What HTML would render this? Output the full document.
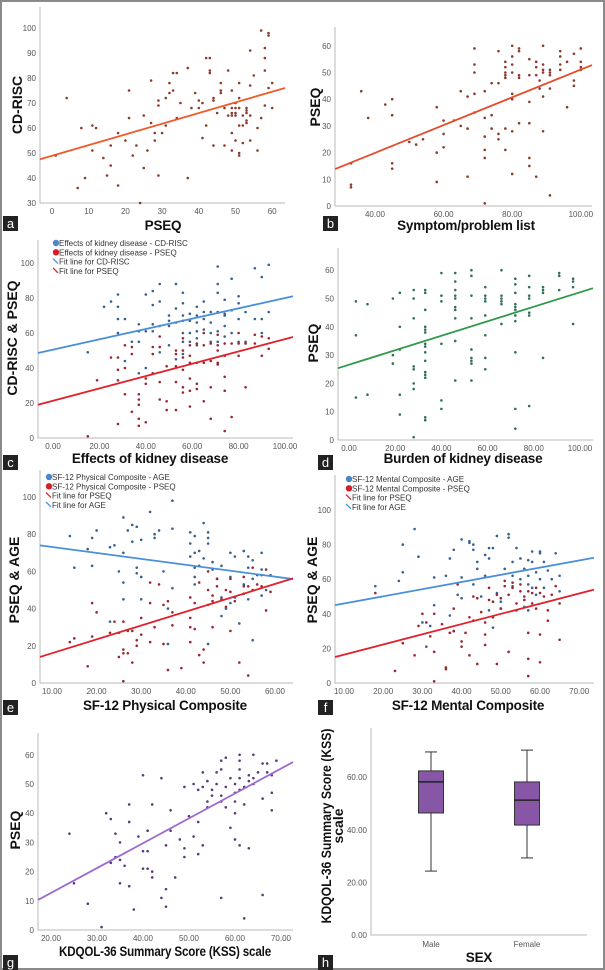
<!DOCTYPE html>
<html><head><meta charset="utf-8">
<style>
html,body{margin:0;padding:0;background:#fff;}
svg{display:block;font-family:"Liberation Sans",sans-serif;}
.tk{font-size:8px;fill:#555;}
.tt{font-size:13.5px;font-weight:bold;fill:#111;letter-spacing:-0.2px;}
.yl{font-size:14px;font-weight:bold;fill:#111;}
.lg{font-size:8px;fill:#333;}
.lt{font-size:13px;fill:#fff;}
</style></head>
<body>
<svg id="fig" width="605" height="970" viewBox="0 0 605 970">
<rect x="1" y="1" width="603" height="968" fill="#fff" stroke="#8a8a8a" stroke-width="2"/>
<g id="layer"></g>
</svg>
<script>
// ---- data ----
const aX=[1,4,7,8,9,11,11,12,14,15,16,16,18,18,20,21,21,22,23,24,25,25,26,27,27,28,28,29,29,29,30,31,31,32,32,33,33,34,34,35,37,37,38,39,40,40,41,41,42,42,43,43,43,44,44,44,45,46,46,46,47,47,48,48,49,49,49,49,49,49,50,50,50,50,50,51,51,51,51,51,51,52,52,52,53,53,53,53,53,54,54,54,54,55,56,56,57,57,58,58,58,58,59,59,59,60,60];
const aY=[49,72,36,60,40,61,51,60,48,41,53,45,58,37,55,75,64,49,53,30,65,44,51,79,62,58,55,71,69,41,58,72,61,78,74,75,82,82,64,70,84,40,68,74,71,68,70,56,88,61,88,83,82,72,71,53,66,78,75,74,68,53,83,65,75,68,66,65,58,51,70,68,66,65,55,78,72,68,61,50,49,65,61,54,68,67,66,63,62,91,77,55,65,81,60,51,99,64,92,88,83,69,98,97,76,78,68];
const fitA=[48.9,0.427];
const bX=[33,33,33,36,38,43,45,45,45,45,50,52,54,58,58,58,60,60,60,63,65,65,67,67,67,69,69,69,69,69,72,72,72,72,72,72,74,74,74,76,76,76,76,78,78,78,78,78,78,78,80,80,80,80,80,80,80,80,82,82,82,82,82,85,85,85,85,85,85,87,87,87,87,88,88,89,89,89,89,89,89,91,91,91,91,91,94,94,94,94,96,96,98,98,98,100,100,100,100];
const bY=[16,8,7,43,33,38,40,34,16,14,24,23,25,37,20,9,32,27,22,32,30,43,41,29,11,59,53,50,42,35,43,33,26,21,18,1,46,34,29,46,58,27,25,29,21,54,52,50,49,48,60,56,53,50,42,40,28,12,59,58,49,48,31,55,49,39,31,18,15,54,52,49,11,47,44,60,53,51,50,41,28,51,50,49,44,4,58,56,53,51,54,37,57,47,45,59,54,52,51];
const fitB=[-0.9,0.52];
const cBlueX=[15,22,25,28,28,28,28,31,31,34,37,37,37,37,40,40,40,43,43,43,43,46,46,46,46,50,50,50,50,53,53,53,53,56,56,56,56,56,56,56,59,59,59,59,62,62,62,62,62,62,65,65,65,65,68,68,68,68,71,71,71,71,71,71,74,74,74,74,74,77,77,77,80,80,80,80,83,83,87,87,90,90,90,93,93];
const cBlueY=[49,75,78,82,75,68,60,68,44,55,65,61,55,37,82,61,40,84,76,65,61,88,78,64,49,70,67,64,53,88,74,66,45,83,77,70,67,60,55,48,71,67,60,55,75,70,66,61,57,53,78,72,68,62,72,66,60,55,98,88,83,72,61,55,79,71,70,64,58,91,73,60,81,77,68,55,72,55,97,68,92,68,60,99,72];
const cRedX=[15,19,25,28,28,28,28,31,31,31,34,34,34,37,37,37,37,37,40,40,40,43,43,43,46,46,46,46,49,49,49,53,53,53,53,53,56,56,56,56,56,56,59,59,59,59,59,59,62,62,62,62,65,65,65,65,68,68,68,68,71,71,71,71,71,74,74,74,74,74,77,77,80,80,80,83,83,87,87,90,90,93,93];
const cRedY=[1,33,46,46,39,33,8,53,40,25,52,48,15,25,22,19,11,7,34,31,9,52,48,37,58,52,32,22,41,21,16,50,48,41,32,16,57,50,46,39,29,26,53,47,43,34,27,18,54,43,31,28,60,53,43,21,54,44,29,11,59,53,50,43,42,54,47,35,27,4,54,12,60,54,47,54,29,59,54,58,47,57,51];
const fitCBlue=[50.5,0.295];
const fitCRed=[21.3,0.352];
const dX=[3,3,3,8,8,19,19,19,22,22,22,22,22,28,28,28,28,28,28,28,28,33,33,33,33,33,33,33,33,33,33,33,33,33,33,33,40,40,40,40,40,40,46,46,46,46,46,46,46,46,46,46,53,53,53,53,53,53,53,53,53,59,59,59,59,59,59,59,59,66,66,66,66,66,66,72,72,72,72,72,72,72,72,72,72,72,78,78,78,78,78,78,78,84,84,84,84,91,91,91,97,97,97,97];
const dY=[49,37,15,48,16,50,30,27,52,40,32,16,9,53,50,43,26,25,20,18,1,53,52,46,40,39,38,34,33,31,28,24,23,22,8,7,59,51,49,34,14,11,59,56,53,51,50,47,46,43,35,21,60,58,51,43,32,29,28,27,21,54,51,50,49,44,37,29,25,60,51,50,49,48,41,57,55,52,48,47,46,44,42,31,11,4,58,54,51,50,45,44,12,54,53,52,29,59,58,53,57,56,54,41];
const fitD=[26.6,0.256];
const eBlueX=[14,15,18,19,19,20,23,23,24,25,26,26,26,26,27,28,28,29,29,29,30,30,30,32,33,33,34,35,36,36,37,37,37,41,41,41,42,42,42,42,42,43,43,44,44,45,45,45,45,45,46,46,47,48,48,48,49,50,50,50,51,51,52,53,53,54,54,54,55,55,55,56,57,57,57,58,59];
const eBlueY=[79,62,72,63,78,82,33,73,74,60,89,70,54,45,82,85,76,84,62,59,77,57,45,92,78,80,82,60,21,40,98,83,51,81,75,68,79,70,62,57,53,71,63,86,67,81,78,75,42,21,65,61,56,63,46,36,40,70,57,43,68,46,32,71,53,68,62,45,66,23,56,58,70,61,47,50,58];
const eRedX=[14,15,18,19,19,20,23,24,25,25,26,26,26,26,27,27,28,28,29,29,30,30,32,32,32,33,34,35,35,36,36,37,37,39,41,41,41,41,42,42,43,43,44,44,45,45,46,46,46,47,47,48,49,49,50,50,50,51,52,53,53,53,54,54,55,55,56,57,57,58,58,59];
const eRedY=[22,24,9,25,43,38,27,33,14,27,18,16,1,33,16,28,11,28,23,20,26,35,22,54,43,30,53,21,42,7,44,31,38,8,46,35,30,22,29,43,54,15,18,11,60,50,47,44,30,56,52,45,50,41,56,49,28,44,11,57,52,48,52,4,62,50,53,58,52,61,39,49];
const fitEBlue=[76.3,-0.319];
const fitERed=[8.56,0.745];
const fBlueX=[18,24,25,25,28,29,30,31,32,33,33,36,37,37,38,38,39,40,40,40,42,42,43,43,43,44,44,45,46,46,47,47,47,48,48,49,49,50,50,51,52,52,53,53,53,54,55,55,56,56,57,57,57,57,58,58,58,59,59,60,60,60,61,61,62,63,64,65,65];
const fBlueY=[56,59,80,64,89,73,35,21,33,61,45,62,72,39,77,30,51,83,61,49,82,81,80,77,57,70,66,50,74,62,78,72,42,78,32,85,52,47,43,66,84,86,70,62,56,78,72,60,66,44,71,62,57,42,76,70,55,64,51,76,75,60,70,55,65,60,75,62,53];
const fRedX=[18,23,25,28,29,30,31,32,33,33,33,35,36,36,37,38,38,39,40,40,41,42,42,43,43,44,44,45,46,46,46,47,47,48,48,49,49,50,50,51,51,52,52,53,53,54,54,55,55,56,56,57,57,57,57,58,58,59,59,60,60,60,61,62,62,63,64,65,65];
const fRedY=[52,7,23,16,33,40,35,27,40,18,1,34,9,8,29,43,30,57,21,24,29,38,16,50,36,11,49,41,35,28,22,48,55,47,38,51,11,49,43,59,56,18,51,58,55,42,46,57,53,50,48,53,29,14,4,52,46,55,43,52,28,12,50,42,36,51,56,46,25];
const fitFBlue=[41.8,0.415];
const fitFRed=[10.5,0.589];
const gX=[24,25,28,31,32,33,33,34,34,35,35,35,36,37,37,37,38,39,40,40,40,41,41,41,42,42,42,44,44,45,45,45,46,46,47,48,49,49,49,50,51,51,52,52,52,53,53,53,54,54,54,55,55,56,56,57,57,57,57,57,58,58,58,59,59,60,60,60,60,60,61,61,61,61,61,61,62,62,62,63,63,63,64,64,64,65,66,66,66,67,67,68,68,69,68];
const gY=[33,16,9,1,40,38,23,25,33,30,24,16,22,15,37,43,7,32,53,27,21,21,34,27,18,20,43,52,11,29,14,8,41,34,18,31,28,25,49,39,32,50,26,48,37,29,49,54,51,44,42,48,46,54,50,58,55,46,44,11,59,49,42,52,35,50,47,44,40,31,60,58,55,52,48,29,49,4,43,53,51,28,60,52,50,54,57,45,12,57,54,53,41,58,47];
const fitG=[-4.35,0.852];
const hCats=["Male","Female"];
const hMin=[24.3,29.3];
const hQ1=[46.4,41.8];
const hMed=[58.2,51.3];
const hQ3=[62.4,58.2];
const hMax=[69.6,70.3];
const tickYh=[0,20,40,60];

// ---- drawing ----
const NS="http://www.w3.org/2000/svg";
const layer=document.getElementById('layer');
function mk(tag,attrs,parent){const e=document.createElementNS(NS,tag);for(const k in attrs)e.setAttribute(k,attrs[k]);(parent||layer).appendChild(e);return e;}
function txt(s,attrs,parent){const e=mk('text',attrs,parent);e.textContent=s;return e;}

function panel(P){
  const g=mk('g',{});
  
  
  const sx=v=>P.x0+(v-P.xv0)*P.xs;
  const sy=v=>P.y0-(v-P.yv0)*P.ys;
  const ax=mk('path',{d:`M${P.left} ${P.top} V${P.y0} H${P.right}`,fill:'none',stroke:'#b8b8b8','stroke-width':1},g);
  
  
  for(const t of P.yt){const e=txt(String(t),{x:P.left-4,y:sy(t)+3,'text-anchor':'end',class:'tk'},g);
    
    }
  for(const t of P.xt){const e=txt(P.fmt?t.toFixed(2):String(t),{x:sx(t),y:P.y0+11,'text-anchor':'middle',class:'tk'},g);
    
    }
  for(const s of P.series){
    for(let i=0;i<s.x.length;i++){const c=mk('circle',{cx:sx(s.x[i]),cy:sy(s.y[i]),r:1.3,fill:s.color},g);
      
      }
  }
  for(const f of P.fits){
    const xa=P.xv0+(P.left-P.x0)/P.xs, xb=P.xv0+(P.right-P.x0)/P.xs;
    const l=mk('line',{x1:P.left,y1:sy(f.p[0]+f.p[1]*xa),x2:P.right,y2:sy(f.p[0]+f.p[1]*xb),stroke:f.color,'stroke-width':1.8},g);
    
    
  }
  const xa={x:P.xtx,y:P.xty,'text-anchor':'middle',class:'tt'};
  if(P.xtl){xa.textLength=P.xtl;xa.lengthAdjust='spacingAndGlyphs';}
  const xt=txt(P.xtitle,xa,g);
  
  
  const yt=txt(P.ytitle,{x:0,y:0,'text-anchor':'middle',class:'yl',transform:`translate(${P.ytx},${P.yty}) rotate(-90)`},g);
  
  
  if(P.legend){P.legend.forEach((L,i)=>{const yy=P.lgy+i*9.3;
    if(L.dot){const c=mk('circle',{cx:P.lgx,cy:yy-3,r:3.2,fill:L.c},g);}
    else{const l=mk('line',{x1:P.lgx-3,y1:yy-6,x2:P.lgx+2,y2:yy-1,stroke:L.c,'stroke-width':1.3},g);}
    const t=txt(L.t,{x:P.lgx+3,y:yy,class:'lg'},g);
    
    });}
  const lb=mk('rect',{x:P.lbx,y:P.lby,width:15,height:15,fill:'#222'},g);
  
  
  const lt=txt(P.label,{x:P.lbx+7.5,y:P.lby+12,'text-anchor':'middle',class:'lt'},g);
  
  
  return {sx,sy,g};
}
const R=(a,b,s)=>{const o=[];for(let v=a;v<=b+1e-9;v+=s)o.push(v);return o;};
const BL='#35608f',RD='#9a2530',LB='#4a90d9',LR='#e0202a';

panel({name:'panel-a',label:'a',x0:52,xv0:0,xs:3.67,left:40,right:285,y0:203,yv0:30,ys:2.5,top:7,xt:R(0,60,10),yt:R(30,100,10),
  series:[{x:aX,y:aY,color:'#8b3a2a'}],fits:[{p:fitA,color:'#f05a28'}],xtitle:'PSEQ',xtx:163,xty:230,ytitle:'CD-RISC',ytx:22,yty:105,lbx:3,lby:216});
panel({name:'panel-b',label:'b',x0:375,xv0:40,xs:3.43,left:335,right:592,y0:206,yv0:0,ys:2.67,top:27,fmt:true,xt:R(40,100,20),yt:R(0,60,10),
  series:[{x:bX,y:bY,color:'#8b3a2a'}],fits:[{p:fitB,color:'#e84a2a'}],xtitle:'Symptom/problem list',xtx:466,xty:230,ytitle:'PSEQ',ytx:320,yty:107,lbx:323,lby:216});
panel({name:'panel-c',label:'c',x0:53,xv0:0,xs:2.32,left:38,right:293,y0:438,yv0:0,ys:1.75,top:240,fmt:true,xt:R(0,100,20),yt:R(0,100,20),
  series:[{x:cBlueX,y:cBlueY,color:BL},{x:cRedX,y:cRedY,color:RD}],fits:[{p:fitCBlue,color:LB},{p:fitCRed,color:LR}],
  legend:[{dot:1,c:'#4a86c8',t:'Effects of kidney disease - CD-RISC'},{dot:1,c:'#d0202a',t:'Effects of kidney disease - PSEQ'},{c:LB,t:'Fit line for CD-RISC'},{c:LR,t:'Fit line for PSEQ'}],lgx:56,lgy:246,
  xtitle:'Effects of kidney disease',xtx:150,xty:463,ytitle:'CD-RISC & PSEQ',ytx:17,yty:338,lbx:3,lby:455});
panel({name:'panel-d',label:'d',x0:349,xv0:0,xs:2.31,left:338,right:593,y0:440,yv0:0,ys:2.83,top:248,fmt:true,xt:R(0,100,20),yt:R(0,60,10),
  series:[{x:dX,y:dY,color:'#2f6f55'}],fits:[{p:fitD,color:'#2e9a48'}],xtitle:'Burden of kidney disease',xtx:463,xty:463,ytitle:'PSEQ',ytx:318,yty:343,lbx:318,lby:455});
panel({name:'panel-e',label:'e',x0:52,xv0:10,xs:4.46,left:40,right:293,y0:683,yv0:0,ys:1.86,top:470,fmt:true,xt:R(10,60,10),yt:R(0,100,20),
  series:[{x:eBlueX,y:eBlueY,color:BL},{x:eRedX,y:eRedY,color:RD}],fits:[{p:fitEBlue,color:LB},{p:fitERed,color:LR}],
  legend:[{dot:1,c:'#4a86c8',t:'SF-12 Physical Composite - AGE'},{dot:1,c:'#d0202a',t:'SF-12 Physical Composite - PSEQ'},{c:LR,t:'Fit line for PSEQ'},{c:LB,t:'Fit line for AGE'}],lgx:49,lgy:480,
  xtitle:'SF-12 Physical Composite',xtx:165,xty:710,ytitle:'PSEQ & AGE',ytx:19,yty:580,lbx:3,lby:700});
panel({name:'panel-f',label:'f',x0:344,xv0:10,xs:3.92,left:335,right:594,y0:683,yv0:0,ys:1.73,top:475,fmt:true,xt:R(10,70,10),yt:R(0,100,20),
  series:[{x:fBlueX,y:fBlueY,color:BL},{x:fRedX,y:fRedY,color:RD}],fits:[{p:fitFBlue,color:LB},{p:fitFRed,color:LR}],
  legend:[{dot:1,c:'#4a86c8',t:'SF-12 Mental Composite - AGE'},{dot:1,c:'#d0202a',t:'SF-12 Mental Composite - PSEQ'},{c:LR,t:'Fit line for PSEQ'},{c:LB,t:'Fit line for AGE'}],lgx:349,lgy:482,
  xtitle:'SF-12 Mental Composite',xtx:468,xty:710,ytitle:'PSEQ & AGE',ytx:317,yty:580,lbx:318,lby:700});
panel({name:'panel-g',label:'g',x0:51,xv0:20,xs:4.6,left:38,right:293,y0:930,yv0:0,ys:2.92,top:733,fmt:false,xt:[],yt:R(0,60,10),
  series:[{x:gX,y:gY,color:'#5a3a7a'}],fits:[{p:fitG,color:'#9b6ad0'}],xtitle:'KDQOL-36 Summary Score (KSS) scale',xtx:165,xty:956,xtl:212,ytitle:'PSEQ',ytx:20,yty:830,lbx:3,lby:955});
// panel g x ticks with decimals
for(const t of R(20,70,10)){const e=txt(t.toFixed(2),{x:51+(t-20)*4.6,y:941,'text-anchor':'middle',class:'tk'});
  
  }

// panel h boxplot
(function(){
  const g=mk('g',{});
  
  
  const y0=935,ys=2.63,left=371,right=587,top=728;
  const sy=v=>y0-v*ys;
  const cx=[431,527];
  const ax=mk('path',{d:`M${left} ${top} V${y0} H${right}`,fill:'none',stroke:'#b8b8b8','stroke-width':1},g);
  
  
  for(const t of tickYh){const e=txt(t.toFixed(2),{x:left-4,y:sy(t)+3,'text-anchor':'end',class:'tk'},g);
    
    }
  hCats.forEach((c,i)=>{
    const x=cx[i];
    const w=mk('line',{x1:x,y1:sy(hMin[i]),x2:x,y2:sy(hMax[i]),stroke:'#333','stroke-width':1},g);
    
    
    for(const v of [hMin[i],hMax[i]]){const cap=mk('line',{x1:x-6,y1:sy(v),x2:x+6,y2:sy(v),stroke:'#333','stroke-width':1},g);
      
      }
    const b=mk('rect',{x:x-12.5,y:sy(hQ3[i]),width:25,height:sy(hQ1[i])-sy(hQ3[i]),fill:'#8856a7',stroke:'#333','stroke-width':1},g);
    
    
    const m=mk('line',{x1:x-12.5,y1:sy(hMed[i]),x2:x+12.5,y2:sy(hMed[i]),stroke:'#222','stroke-width':1.5},g);
    
    
    const t=txt(c,{x:x,y:y0+12,'text-anchor':'middle',class:'tk'},g);
    
    
  });
  const xt=txt('SEX',{x:479,y:962,'text-anchor':'middle',class:'tt'},g);
  
  
  const yt=mk('text',{x:0,y:0,'text-anchor':'middle',class:'yl',transform:'translate(334,826) rotate(-90)'},g);
  
  
  const t1=mk('tspan',{x:0,dy:-3,textLength:195,lengthAdjust:'spacingAndGlyphs'},yt);t1.textContent='KDQOL-36 Summary Score (KSS)';
  const t2=mk('tspan',{x:0,dy:12},yt);t2.textContent='scale';
  const lb=mk('rect',{x:318,y:955,width:15,height:15,fill:'#222'},g);
  
  
  const lt=txt('h',{x:325.5,y:967,'text-anchor':'middle',class:'lt'},g);
  
  
})();
</script>
</body></html>
